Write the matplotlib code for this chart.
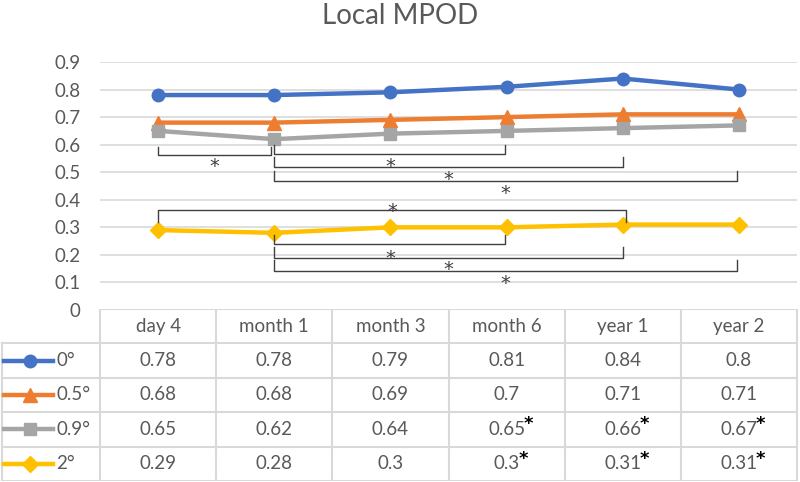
import matplotlib.pyplot as plt
import numpy as np

plt.rcParams['font.family'] = ['Lato', 'DejaVu Sans']

# data
periods = ['day 4', 'month 1', 'month 3', 'month 6', 'year 1', 'year 2']
series_names = ['0°', '0.5°', '0.9°', '2°']
mpod_0 = [0.78, 0.78, 0.79, 0.81, 0.84, 0.8]
mpod_05 = [0.68, 0.68, 0.69, 0.7, 0.71, 0.71]
mpod_09 = [0.65, 0.62, 0.64, 0.65, 0.66, 0.67]
mpod_2 = [0.29, 0.28, 0.3, 0.3, 0.31, 0.31]
table_labels = [
    ['0.78', '0.78', '0.79', '0.81', '0.84', '0.8'],
    ['0.68', '0.68', '0.69', '0.7', '0.71', '0.71'],
    ['0.65', '0.62', '0.64', '0.65', '0.66', '0.67'],
    ['0.29', '0.28', '0.3', '0.3', '0.31', '0.31'],
]
# significance flags per table cell
starred = [
    [0, 0, 0, 0, 0, 0],
    [0, 0, 0, 0, 0, 0],
    [0, 0, 0, 1, 1, 1],
    [0, 0, 0, 1, 1, 1],
]
# brackets: x start, x end, bar y, tick end y, star y
brackets = [
    (0.0, 0.97, 0.562, 0.591, 0.544),
    (1.0, 2.99, 0.566, 0.599, 0.544),
    (1.0, 4.0, 0.519, 0.555, 0.497),
    (1.0, 4.98, 0.468, 0.504, 0.446),
    (0.0, 4.03, 0.363, 0.319, 0.381),
    (1.0, 2.99, 0.239, 0.272, 0.210),
    (1.0, 4.0, 0.189, 0.229, 0.171),
    (1.0, 4.98, 0.142, 0.181, 0.120),
]

colors = ['#4472C4', '#ED7D31', '#A5A5A5', '#FFC000']
markers = ['o', '^', 's', 'D']
msizes = [9, 10, 9, 8]
series = [mpod_0, mpod_05, mpod_09, mpod_2]
text_color = '#595959'
grid_color = '#D9D9D9'
fs = 13.5

fig = plt.figure(figsize=(8, 4.82), dpi=100)
W, H = 800, 482
col_w = 697 / 6

ax = fig.add_axes([100 / W, 1 - 310 / H, 697 / W, 248 / H])
x = np.arange(len(periods))
for vals, c, m, ms in zip(series, colors, markers, msizes):
    ax.plot(x, vals, color=c, lw=3.2, marker=m, markersize=ms, solid_capstyle='round')

for x0, x1, yb, yt, ys in brackets:
    ax.plot([x0, x0, x1, x1], [yt, yb, yb, yt], color='#404040', lw=1)
    ax.text((x0 + x1) / 2, ys - 0.023, '*', ha='center', va='center',
            fontsize=14, color='#404040', family='DejaVu Sans')

ax.set_xlim(-0.5, 5.5)
ax.set_ylim(0, 0.9)
ax.set_yticks(np.arange(0, 0.91, 0.1))
ax.set_yticklabels(['0'] + [f'{v:.1f}' for v in np.arange(0.1, 0.91, 0.1)])
ax.set_xticks([])
ax.tick_params(axis='y', length=0, pad=14, labelsize=fs, labelcolor=text_color)
ax.grid(axis='y', color=grid_color, lw=1.2)
ax.set_axisbelow(True)
for s in ax.spines.values():
    s.set_visible(False)

fig.text(0.5, 1 - 16 / H, 'Local MPOD', ha='center', va='center',
         fontsize=20, color=text_color)

# data table with legend keys
tab = fig.add_axes([0, 1 - 481 / H, 1, 172 / H])
xl = -0.5 - 100 / col_w
tab.set_xlim(xl, -0.5 + 700 / col_w)
tab.set_ylim(4.5, -0.5)
tab.axis('off')
left_edge = xl + 2 / col_w
lc = dict(color=grid_color, lw=1.5)
tab.plot([-0.5, 5.5], [-0.5, -0.5], **lc)
for r in np.arange(0.5, 5, 1):
    tab.plot([left_edge, 5.5], [r, r], **lc)
tab.plot([left_edge, left_edge], [0.5, 4.5], **lc)
for c in np.arange(-0.5, 6, 1):
    tab.plot([c, c], [-0.5, 4.5], **lc)

for j, p in enumerate(periods):
    tab.text(j, 0, p, ha='center', va='center', fontsize=fs, color=text_color)

for i, (name, c, m, ms) in enumerate(zip(series_names, colors, markers, msizes)):
    r = i + 1
    tab.plot([xl + 4 / col_w, xl + 53 / col_w], [r, r], color=c, lw=3.2)
    tab.plot([xl + 30 / col_w], [r], color=c, marker=m, markersize=ms)
    tab.text(xl + 56 / col_w, r, name, ha='left', va='center', fontsize=fs,
             color=text_color)
    for j, lab in enumerate(table_labels[i]):
        t = tab.text(j, r, lab, ha='center', va='center', fontsize=fs,
                     color=text_color)
        if starred[i][j]:
            tab.annotate('*', xy=(1.0, 1.0), xycoords=t, xytext=(-1, 4),
                         textcoords='offset points', ha='left', va='top',
                         fontsize=13, fontweight='bold', color='black',
                         family='DejaVu Sans')

fig.savefig('out.png', dpi=100)
